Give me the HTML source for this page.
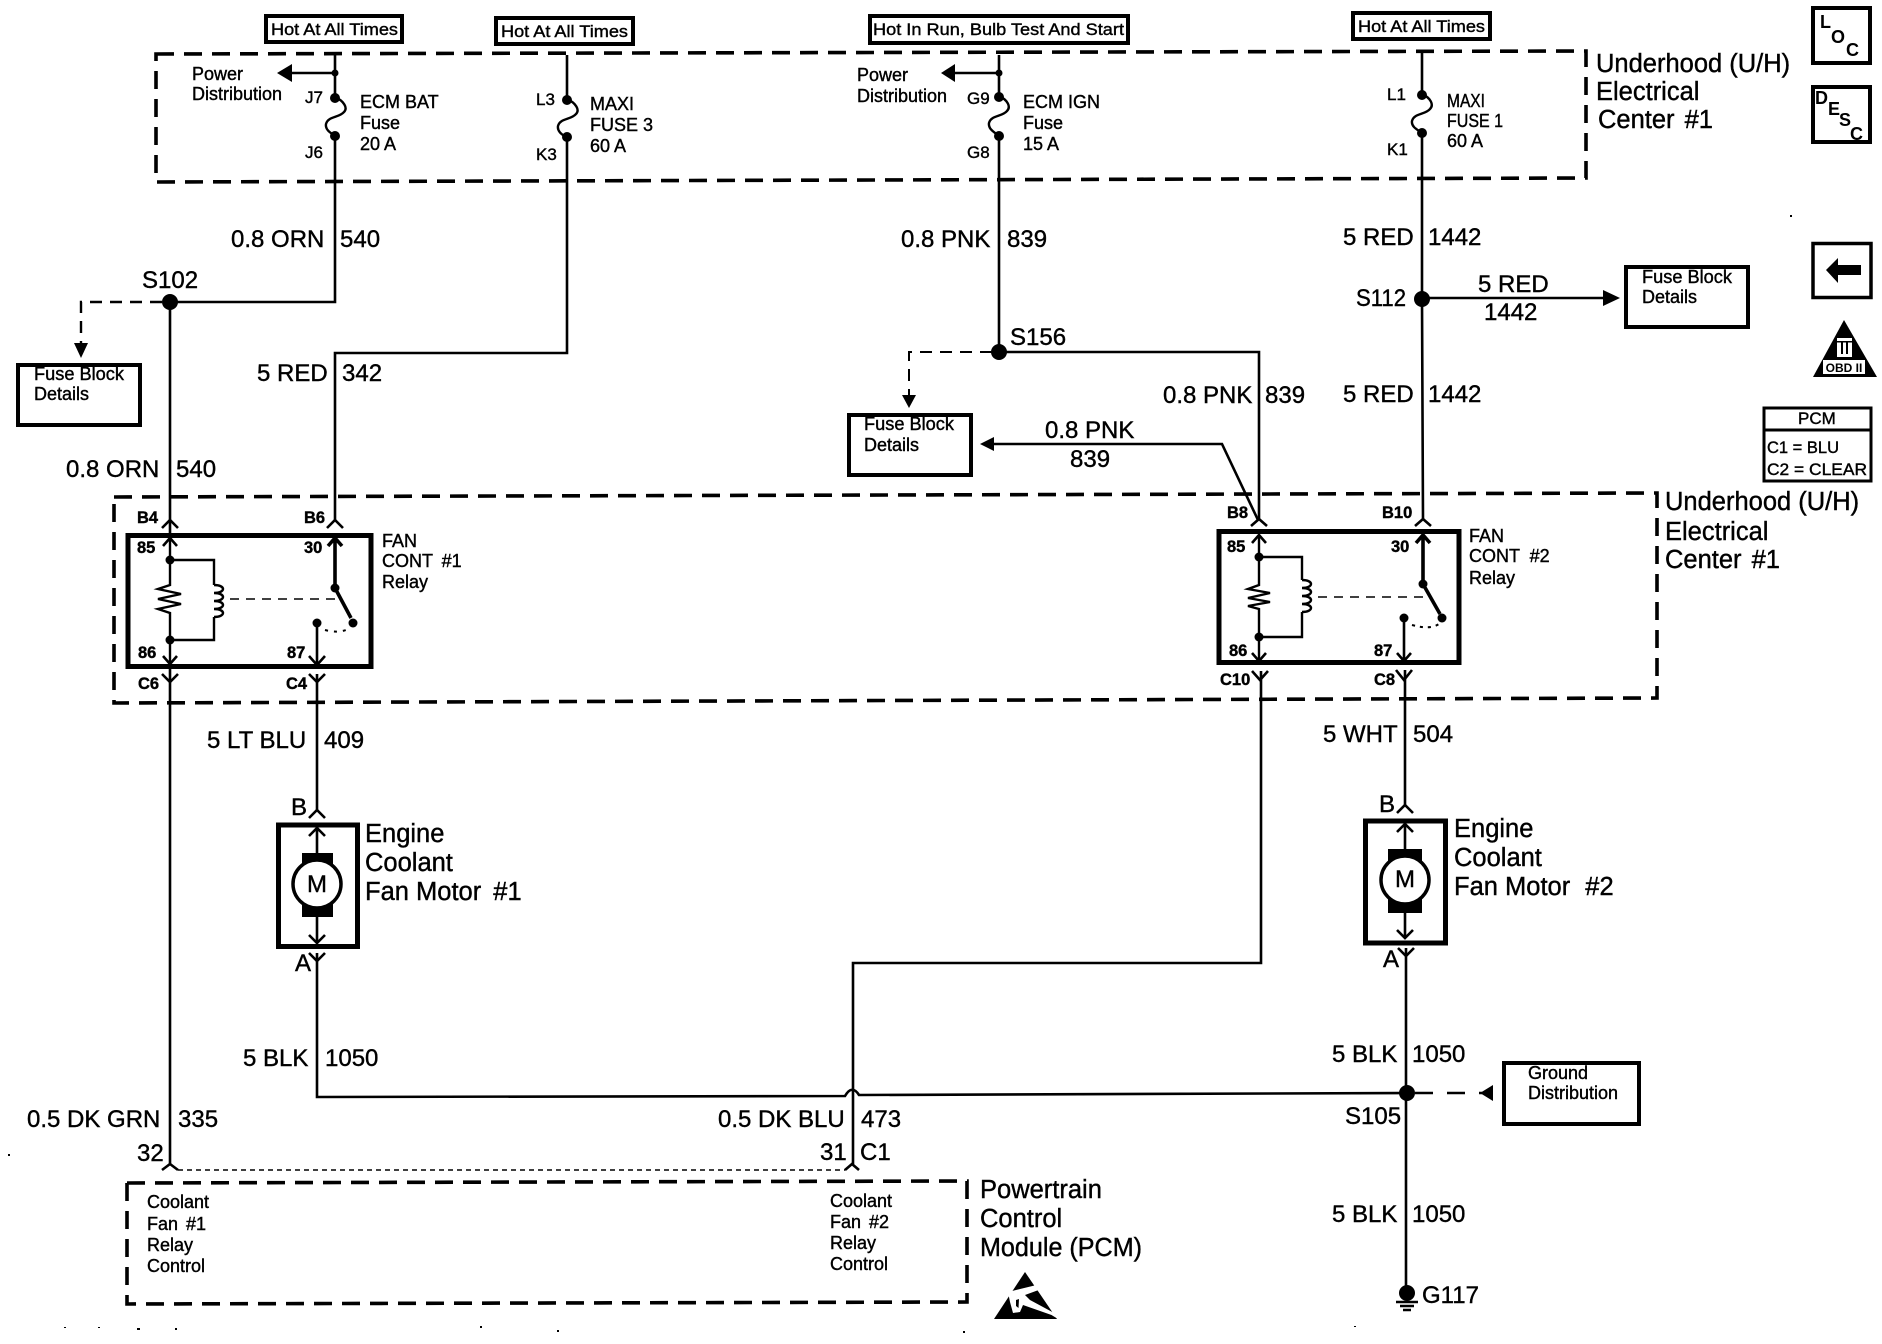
<!DOCTYPE html>
<html><head><meta charset="utf-8"><title>Engine Coolant Fan Schematic</title>
<style>
html,body{margin:0;padding:0;background:#fff;width:1882px;height:1344px;overflow:hidden}
svg{display:block}
text{font-family:"Liberation Sans",sans-serif;fill:#000;stroke:#000;stroke-width:.4px}
.w{fill:none;stroke:#000;stroke-width:2.6}
.t{fill:none;stroke:#000;stroke-width:3.6}
.b{fill:#fff;stroke:#000;stroke-width:4}
.r{fill:#fff;stroke:#000;stroke-width:5}
.d{fill:none;stroke:#000;stroke-width:3.6;stroke-dasharray:18 10}
.dn{fill:none;stroke:#000;stroke-width:2;stroke-dasharray:12 8}
.c{fill:none;stroke:#000;stroke-width:2.4}
.f{fill:#000;stroke:none}
.s24{font-size:24px}.s25{font-size:25.5px}.s18{font-size:18px}.s17{font-size:17px}
.n{font-size:16.5px;font-weight:bold;stroke-width:0}
.sym{font-size:18px;font-weight:bold;stroke-width:0}
</style></head><body>
<svg width="1882" height="1344" viewBox="0 0 1882 1344" xmlns="http://www.w3.org/2000/svg">
<!-- dashed containers -->
<path class="d" d="M156 54 L1586 51 V178 L156 182 Z"/>
<path class="d" d="M114 497 L1657 493 V698 L114 703 Z"/>
<path class="d" d="M127 1183 L967 1181 V1302 L127 1304 Z"/>

<!-- hot boxes -->
<rect class="b" x="266" y="16" width="136" height="26"/>
<text class="s17" x="271" y="35" textLength="127" lengthAdjust="spacingAndGlyphs">Hot At All Times</text>
<rect class="b" x="496" y="18" width="137" height="26"/>
<text class="s17" x="501" y="37" textLength="127" lengthAdjust="spacingAndGlyphs">Hot At All Times</text>
<rect class="b" x="870" y="16" width="258" height="27"/>
<text class="s17" x="873" y="35" textLength="251" lengthAdjust="spacingAndGlyphs">Hot In Run, Bulb Test And Start</text>
<rect class="b" x="1353" y="13" width="137" height="26"/>
<text class="s17" x="1358" y="32" textLength="127" lengthAdjust="spacingAndGlyphs">Hot At All Times</text>

<!-- wires -->
<path class="w" d="M335 55 V98 M335 136 V302 H170 V1164"/>
<path class="w" d="M567 55 V100 M567 137 V353 H335 V520"/>
<path class="w" d="M999 55 V97 M999 136 V352 H1259 V520"/>
<path class="w" d="M1422 53 V95 M1422 133 V300 L1423 520"/>
<path class="w" d="M1423 298 H1606"/>
<path class="w" d="M317 674 V810"/>
<path class="w" d="M317 953 V1097 L845 1096 Q852 1084 859 1095 L1405 1093"/>
<path class="w" d="M1261 671 V963 H853 V1164"/>
<path class="w" d="M1405 670 V805"/>
<path class="w" d="M1406 948 V1290"/>
<path class="w" d="M994 444 H1222 L1258 520"/>

<!-- fuses -->
<path class="c" d="M335 97 C344 101 348 108 344 112 C339 118 328 116 326 124 C325 130 331 133 335 136"/>
<path class="c" d="M567 99 C576 103 580 110 576 114 C571 120 560 118 558 126 C557 132 563 135 567 138"/>
<path class="c" d="M999 96 C1008 100 1011 107 1007 111 C1002 117 991 115 989 123 C988 129 994 132 999 136"/>
<path class="c" d="M1422 94 C1431 98 1434 105 1430 109 C1425 115 1414 113 1412 121 C1411 127 1418 130 1422 133"/>
<g class="f">
<circle cx="335" cy="73" r="3.5"/><circle cx="335" cy="98" r="5"/><circle cx="335" cy="136" r="5"/>
<circle cx="567" cy="100" r="5"/><circle cx="567" cy="137" r="5"/>
<circle cx="999" cy="73" r="3.5"/><circle cx="999" cy="97" r="5"/><circle cx="999" cy="136" r="5"/>
<circle cx="1422" cy="95" r="5"/><circle cx="1422" cy="133" r="5"/>
<circle cx="170" cy="302" r="8"/><circle cx="999" cy="352" r="8"/><circle cx="1422" cy="299" r="8"/><circle cx="1407" cy="1093" r="8"/>
<circle cx="1407" cy="1293" r="8"/>
<!-- arrowheads -->
<path d="M277 73 L292 64 V82 Z"/><path d="M941 73 L955 64 V82 Z"/>
<path d="M81 358 L74 343 H88 Z"/><path d="M909 408 L902 395 H916 Z"/>
<path d="M1620 298 L1603 290 V306 Z"/><path d="M980 444 L994 437 V451 Z"/>
<path d="M1480 1093 L1493 1085 V1101 Z"/>
</g>
<path class="w" d="M335 73 H290 M999 73 H953"/>
<path class="dn" d="M162 302 H81 V345" style="stroke-width:2.4"/>
<path class="dn" d="M992 352 H909 V397"/>
<path class="dn" style="stroke-width:2.4;stroke-dasharray:18 14" d="M1415 1093 H1482"/>
<path fill="none" stroke="#000" stroke-width="1.6" stroke-dasharray="5 4" d="M178 1170 H845"/>

<!-- detail boxes -->
<rect class="b" x="18" y="365" width="122" height="60"/>
<text class="s18" x="34" y="380" textLength="90" lengthAdjust="spacingAndGlyphs">Fuse Block</text><text class="s18" x="34" y="400">Details</text>
<rect class="b" x="849" y="415" width="122" height="60"/>
<text class="s18" x="864" y="430" textLength="90" lengthAdjust="spacingAndGlyphs">Fuse Block</text><text class="s18" x="864" y="451">Details</text>
<rect class="b" x="1626" y="267" width="122" height="60"/>
<text class="s18" x="1642" y="283" textLength="90" lengthAdjust="spacingAndGlyphs">Fuse Block</text><text class="s18" x="1642" y="303">Details</text>
<rect class="b" x="1504" y="1063" width="135" height="61"/>
<text class="s18" x="1528" y="1079">Ground</text><text class="s18" x="1528" y="1099">Distribution</text>

<!-- connector chevrons -->
<path class="w" d="M162 528 L170 520 L178 528 M327 528 L335 520 L343 528 M1251 526 L1259 519 L1267 526 M1415 526 L1423 519 L1431 526"/>
<path class="w" d="M162 674 L170 682 L178 674 M309 674 L317 682 L325 674 M1252 671 L1260 680 L1268 671 M1396 670 L1404 680 L1412 670"/>
<path class="w" d="M309 818 L317 810 L325 818 M1397 813 L1405 805 L1413 813"/>
<path class="w" d="M309 953 L317 961 L325 953 M1398 948 L1406 956 L1414 948"/>
<path class="w" d="M162 1170 L170 1164 L178 1170 M845 1170 L852 1164 L859 1170"/>

<!-- Relay 1 -->
<rect class="r" x="128" y="535.5" width="243" height="131"/>
<path class="c" d="M170 539 V585 L158 589 L181 594 L158 599 L181 604 L158 609 L170 613 V640 H214 V617 M170 560 H214 V585"/>
<path class="c" d="M214 585 C226 585 226 593 214 593 C226 593 226 601 214 601 C226 601 226 609 214 609 C226 609 226 617 214 617"/>
<path class="c" d="M170 640 V664"/>
<path class="w" d="M163 546 L170 538 L177 546 M163 656 L170 664 L177 656"/>
<path class="t" d="M335 539 V588 L351 618 M328 546 L335 538 L342 546"/>
<path class="w" d="M317 623 V665 M309 656 L317 665 L325 656"/>
<path fill="none" stroke="#000" stroke-width="1.6" stroke-dasharray="9 7" d="M230 599 H335"/>
<path fill="none" stroke="#000" stroke-width="2" stroke-dasharray="3 6" d="M325 630 Q340 634 350 628"/>
<g class="f"><circle cx="170" cy="560" r="4.5"/><circle cx="170" cy="640" r="4.5"/><circle cx="335" cy="588" r="4.5"/><circle cx="353" cy="623" r="4.5"/><circle cx="317" cy="623" r="4.5"/></g>

<!-- Relay 2 -->
<rect class="r" x="1219" y="531.5" width="240" height="131"/>
<path class="c" d="M1259 536 V585 L1248 589 L1270 593 L1248 598 L1270 602 L1248 606 L1259 609 V637 H1302 V612 M1259 557 H1302 V580"/>
<path class="c" d="M1302 580 C1314 580 1314 588 1302 588 C1314 588 1314 596 1302 596 C1314 596 1314 604 1302 604 C1314 604 1314 612 1302 612"/>
<path class="c" d="M1259 637 V661"/>
<path class="w" d="M1252 543 L1259 535 L1266 543 M1252 653 L1259 661 L1266 653"/>
<path class="t" d="M1423 536 V584 L1440 614 M1416 543 L1423 535 L1430 543"/>
<path class="w" d="M1404 618 V661 M1397 653 L1404 661 L1411 653"/>
<path fill="none" stroke="#000" stroke-width="1.6" stroke-dasharray="9 7" d="M1318 597 H1423"/>
<path fill="none" stroke="#000" stroke-width="2" stroke-dasharray="3 5" d="M1412 625 Q1430 630 1439 624"/>
<g class="f"><circle cx="1259" cy="557" r="4.5"/><circle cx="1259" cy="637" r="4.5"/><circle cx="1423" cy="584" r="4.5"/><circle cx="1442" cy="618" r="4.5"/><circle cx="1404" cy="618" r="4.5"/></g>

<!-- Motors -->
<rect class="r" x="278.5" y="825" width="79" height="121.5"/>
<path class="w" d="M317 828 V856 M317 915 V943 M309 836 L317 828 L325 836 M309 935 L317 943 L325 935"/>
<rect class="f" x="302" y="853" width="31" height="14"/><rect class="f" x="302" y="903" width="31" height="14"/>
<circle cx="317" cy="884" r="24" fill="#fff" stroke="#000" stroke-width="3.5"/>
<text class="s24" x="317" y="892" text-anchor="middle">M</text>

<rect class="r" x="1365.5" y="821" width="80" height="122"/>
<path class="w" d="M1405 824 V852 M1405 911 V938 M1397 832 L1405 824 L1413 832 M1397 930 L1405 938 L1413 930"/>
<rect class="f" x="1388" y="849" width="34" height="14"/><rect class="f" x="1388" y="899" width="34" height="14"/>
<circle cx="1405" cy="880" r="24" fill="#fff" stroke="#000" stroke-width="3.5"/>
<text class="s24" x="1405" y="887" text-anchor="middle">M</text>

<!-- ground -->
<path class="w" d="M1396 1302 H1418 M1400 1306 H1414 M1403 1310 H1411"/>

<!-- ESD symbol -->
<path class="f" d="M1025 1272 L1057 1319 H994 Z"/>
<path fill="#fff" d="M1008 1292 L1036.5 1285 L1040 1289.5 L1025 1295 L1030 1300 L1056 1314 L1058 1319 L1051.5 1315 L1023 1305 L1020 1312 L1013 1313 L1010 1302 Z"/>
<path class="f" d="M1016 1300 L1019 1299 L1018.5 1308 L1016 1306 Z"/>

<!-- specks -->
<g class="f">
<rect x="8" y="1154" width="2" height="2"/><rect x="64" y="1327" width="2" height="1"/><rect x="98" y="1327" width="2" height="1"/>
<rect x="137" y="1328" width="3" height="2"/><rect x="175" y="1328" width="2" height="2"/><rect x="480" y="1326" width="2" height="2"/><rect x="557" y="1330" width="2" height="2"/>
<rect x="963" y="1331" width="2" height="2"/><rect x="1354" y="1326" width="2" height="1"/><rect x="1790" y="215" width="2" height="2"/>
</g>

<!-- fuse labels -->
<g class="s18">
<text x="192" y="80">Power</text><text x="192" y="100">Distribution</text>
<text x="857" y="81">Power</text><text x="857" y="102">Distribution</text>
<text class="s17" x="305" y="103">J7</text><text class="s17" x="305" y="158">J6</text>
<text class="s17" x="536" y="105">L3</text><text class="s17" x="536" y="160">K3</text>
<text class="s17" x="967" y="104">G9</text><text class="s17" x="967" y="158">G8</text>
<text class="s17" x="1387" y="100">L1</text><text class="s17" x="1387" y="155">K1</text>
<text x="360" y="108">ECM BAT</text><text x="360" y="129">Fuse</text><text x="360" y="150">20 A</text>
<text x="590" y="110">MAXI</text><text x="590" y="131">FUSE 3</text><text x="590" y="152">60 A</text>
<text x="1023" y="108">ECM IGN</text><text x="1023" y="129">Fuse</text><text x="1023" y="150">15 A</text>
<text x="1447" y="107" textLength="38" lengthAdjust="spacingAndGlyphs">MAXI</text><text x="1447" y="127" textLength="56" lengthAdjust="spacingAndGlyphs">FUSE 1</text><text x="1447" y="147" textLength="36" lengthAdjust="spacingAndGlyphs">60 A</text>
<text x="382" y="547">FAN</text><text x="382" y="567">CONT <tspan dx="4">#1</tspan></text><text x="382" y="588">Relay</text>
<text x="1469" y="542">FAN</text><text x="1469" y="562">CONT <tspan dx="5">#2</tspan></text><text x="1469" y="584">Relay</text>
<text x="147" y="1208">Coolant</text><text x="147" y="1230">Fan <tspan dx="3">#1</tspan></text><text x="147" y="1251">Relay</text><text x="147" y="1272">Control</text>
<text x="830" y="1207">Coolant</text><text x="830" y="1228">Fan <tspan dx="3">#2</tspan></text><text x="830" y="1249">Relay</text><text x="830" y="1270">Control</text>
</g>
<!-- pin labels -->
<g class="n">
<text x="137" y="553">85</text><text x="304" y="553">30</text><text x="138" y="658">86</text><text x="287" y="658">87</text>
<text x="1227" y="552">85</text><text x="1391" y="552">30</text><text x="1229" y="656">86</text><text x="1374" y="656">87</text>
<text x="137" y="523">B4</text><text x="304" y="523">B6</text><text x="1227" y="518">B8</text><text x="1382" y="518">B10</text>
<text x="138" y="689">C6</text><text x="286" y="689">C4</text><text x="1220" y="685">C10</text><text x="1374" y="685">C8</text>
</g>
<!-- wire labels -->
<g class="s24">
<text x="231" y="247">0.8 ORN</text><text x="340" y="247">540</text>
<text x="257" y="381">5 RED</text><text x="342" y="381">342</text>
<text x="901" y="247">0.8 PNK</text><text x="1007" y="247">839</text>
<text x="1343" y="245">5 RED</text><text x="1428" y="245">1442</text>
<text x="1163" y="403">0.8 PNK</text><text x="1265" y="403">839</text>
<text x="1343" y="402">5 RED</text><text x="1428" y="402">1442</text>
<text x="1045" y="438">0.8 PNK</text><text x="1070" y="467">839</text>
<text x="1478" y="292">5 RED</text><text x="1484" y="320">1442</text>
<text x="66" y="477">0.8 ORN</text><text x="176" y="477">540</text>
<text x="207" y="748">5 LT BLU</text><text x="324" y="748">409</text>
<text x="1323" y="742">5 WHT</text><text x="1413" y="742">504</text>
<text x="243" y="1066">5 BLK</text><text x="325" y="1066">1050</text>
<text x="1332" y="1062">5 BLK</text><text x="1412" y="1062">1050</text>
<text x="1332" y="1222">5 BLK</text><text x="1412" y="1222">1050</text>
<text x="27" y="1127">0.5 DK GRN</text><text x="178" y="1127">335</text>
<text x="718" y="1127">0.5 DK BLU</text><text x="861" y="1127">473</text>
<text x="137" y="1161">32</text><text x="820" y="1160">31</text><text x="860" y="1160">C1</text>
<text x="142" y="288">S102</text><text x="1010" y="345">S156</text><text x="1356" y="306" textLength="50" lengthAdjust="spacingAndGlyphs">S112</text><text x="1345" y="1124">S105</text><text x="1422" y="1303">G117</text>
<text x="291" y="815">B</text><text x="295" y="971">A</text><text x="1379" y="812">B</text><text x="1383" y="967">A</text>
</g>
<!-- component titles -->
<g class="s25">
<text x="1596" y="72">Underhood (U/H)</text><text x="1596" y="100">Electrical</text><text x="1598" y="128">Center <tspan dx="3">#1</tspan></text>
<text x="1665" y="510">Underhood (U/H)</text><text x="1665" y="540">Electrical</text><text x="1665" y="568">Center <tspan dx="3">#1</tspan></text>
<text x="365" y="842">Engine</text><text x="365" y="871">Coolant</text><text x="365" y="900">Fan Motor <tspan dx="5">#1</tspan></text>
<text x="1454" y="837">Engine</text><text x="1454" y="866">Coolant</text><text x="1454" y="895">Fan Motor <tspan dx="8">#2</tspan></text>
<text x="980" y="1198">Powertrain</text><text x="980" y="1227">Control</text><text x="980" y="1256" textLength="162" lengthAdjust="spacingAndGlyphs">Module (PCM)</text>
</g>
<!-- right side symbols -->
<rect x="1813" y="8" width="57" height="55" fill="none" stroke="#000" stroke-width="4"/>
<text class="sym" x="1820" y="28">L</text><text class="sym" x="1831" y="43" font-size="19">O</text><text class="sym" x="1846" y="56">C</text>
<rect x="1813" y="87" width="57" height="55" fill="none" stroke="#000" stroke-width="4"/>
<text class="sym" x="1815" y="104">D</text><text class="sym" x="1828" y="115">E</text><text class="sym" x="1839" y="126">S</text><text class="sym" x="1850" y="140">C</text>
<rect x="1813" y="243.5" width="58" height="54" fill="none" stroke="#000" stroke-width="3.5"/>
<path class="f" d="M1826 270 L1838 258 V265 H1861 V275 H1838 V283 Z"/>
<path class="f" d="M1844 320 L1877 377 H1813 Z"/>
<rect x="1823" y="360" width="42" height="14" fill="#fff"/>
<rect x="1837" y="338" width="15" height="19" fill="#fff"/>
<rect x="1837" y="341" width="15" height="1.5" fill="#000"/><rect x="1841" y="342" width="2" height="12" fill="#000"/><rect x="1846" y="342" width="2" height="12" fill="#000"/>
<text x="1844" y="372" text-anchor="middle" font-size="12" font-weight="bold" style="stroke-width:0">OBD II</text>
<rect x="1764" y="408" width="107" height="73" fill="none" stroke="#000" stroke-width="3"/>
<path d="M1764 430 H1871" stroke="#000" stroke-width="3"/>
<text class="s17" x="1798" y="424">PCM</text>
<text class="s17" x="1767" y="453" textLength="72" lengthAdjust="spacingAndGlyphs">C1 = BLU</text>
<text class="s17" x="1767" y="475" textLength="100" lengthAdjust="spacingAndGlyphs">C2 = CLEAR</text>
</svg>
</body></html>
